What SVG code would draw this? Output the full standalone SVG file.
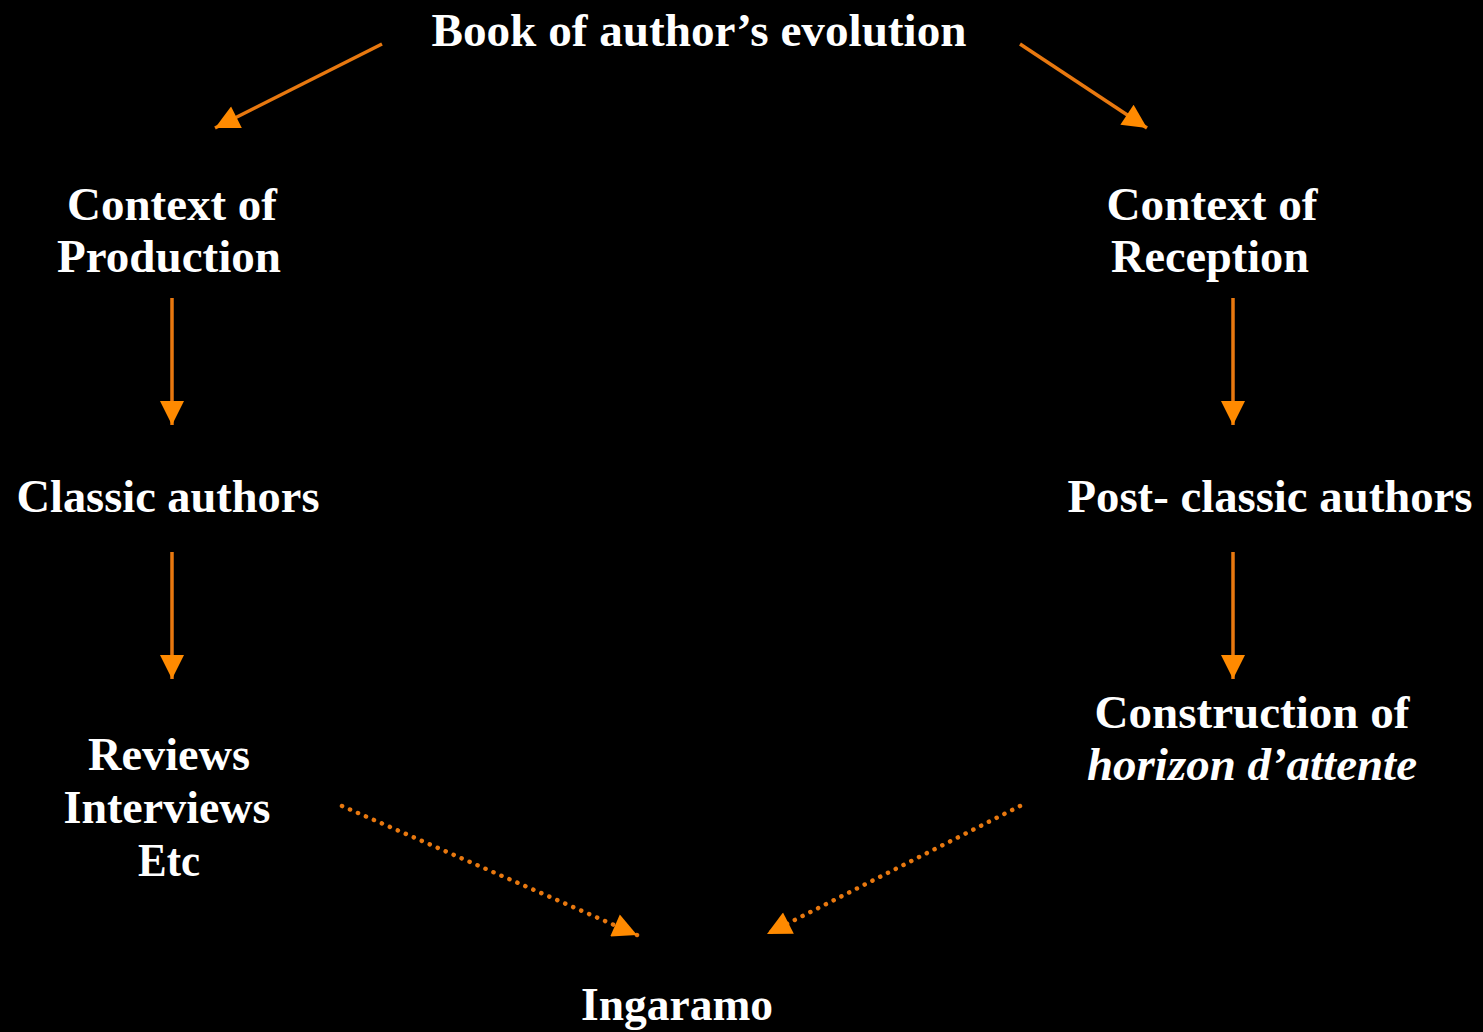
<svg xmlns="http://www.w3.org/2000/svg" width="1483" height="1032" viewBox="0 0 1483 1032">
<style>
text{font-family:"Liberation Serif","Times New Roman",serif;font-weight:bold;font-size:47px;fill:#ffffff;text-anchor:middle}
.it{font-style:italic}
.c{stroke:#e8780f;stroke-width:3.5;fill:none}
.d{stroke:#e8780f;stroke-width:4.5;fill:none;stroke-dasharray:0.1 8.6;stroke-linecap:round}
</style>
<defs>
<marker id="ah" viewBox="0 0 10 10" refX="10" refY="5" markerWidth="28" markerHeight="24" markerUnits="userSpaceOnUse" orient="auto">
<path d="M0,0 L10,5 L0,10 Z" fill="#ff8a00"/>
</marker>
</defs>
<rect width="1483" height="1032" fill="#000000"/>
<g id="connectors">
<line class="c" x1="382" y1="44" x2="215" y2="128" marker-end="url(#ah)"/>
<line class="c" x1="1020" y1="44" x2="1147" y2="128" marker-end="url(#ah)"/>
<line class="c" x1="172" y1="298" x2="172" y2="425" marker-end="url(#ah)"/>
<line class="c" x1="1233" y1="298" x2="1233" y2="425" marker-end="url(#ah)"/>
<line class="c" x1="172" y1="552" x2="172" y2="679" marker-end="url(#ah)"/>
<line class="c" x1="1233" y1="552" x2="1233" y2="679" marker-end="url(#ah)"/>
<line class="d" x1="342" y1="806" x2="637" y2="935" marker-end="url(#ah)"/>
<line class="d" x1="1020" y1="806" x2="767" y2="934" marker-end="url(#ah)"/>
</g>
<g id="book"><text x="699" y="46" textLength="535" lengthAdjust="spacingAndGlyphs">Book of author’s evolution</text></g>
<g id="production"><text x="172" y="220" textLength="210" lengthAdjust="spacingAndGlyphs">Context of</text><text x="169" y="272" textLength="224" lengthAdjust="spacingAndGlyphs">Production</text></g>
<g id="reception"><text x="1212" y="220" textLength="211" lengthAdjust="spacingAndGlyphs">Context of</text><text x="1210" y="272" textLength="198" lengthAdjust="spacingAndGlyphs">Reception</text></g>
<g id="classic"><text x="168" y="512" textLength="303" lengthAdjust="spacingAndGlyphs">Classic authors</text></g>
<g id="postclassic"><text x="1270" y="512" textLength="405" lengthAdjust="spacingAndGlyphs">Post- classic authors</text></g>
<g id="reviews"><text x="169" y="770" textLength="162" lengthAdjust="spacingAndGlyphs">Reviews</text><text x="167" y="823" textLength="207" lengthAdjust="spacingAndGlyphs">Interviews</text><text x="169" y="876" textLength="62" lengthAdjust="spacingAndGlyphs">Etc</text></g>
<g id="construction"><text x="1252" y="728" textLength="315" lengthAdjust="spacingAndGlyphs">Construction of</text><text class="it" x="1252" y="780" textLength="330" lengthAdjust="spacingAndGlyphs">horizon d’attente</text></g>
<g id="ingaramo"><text x="677" y="1020" textLength="192" lengthAdjust="spacingAndGlyphs">Ingaramo</text></g>
</svg>
